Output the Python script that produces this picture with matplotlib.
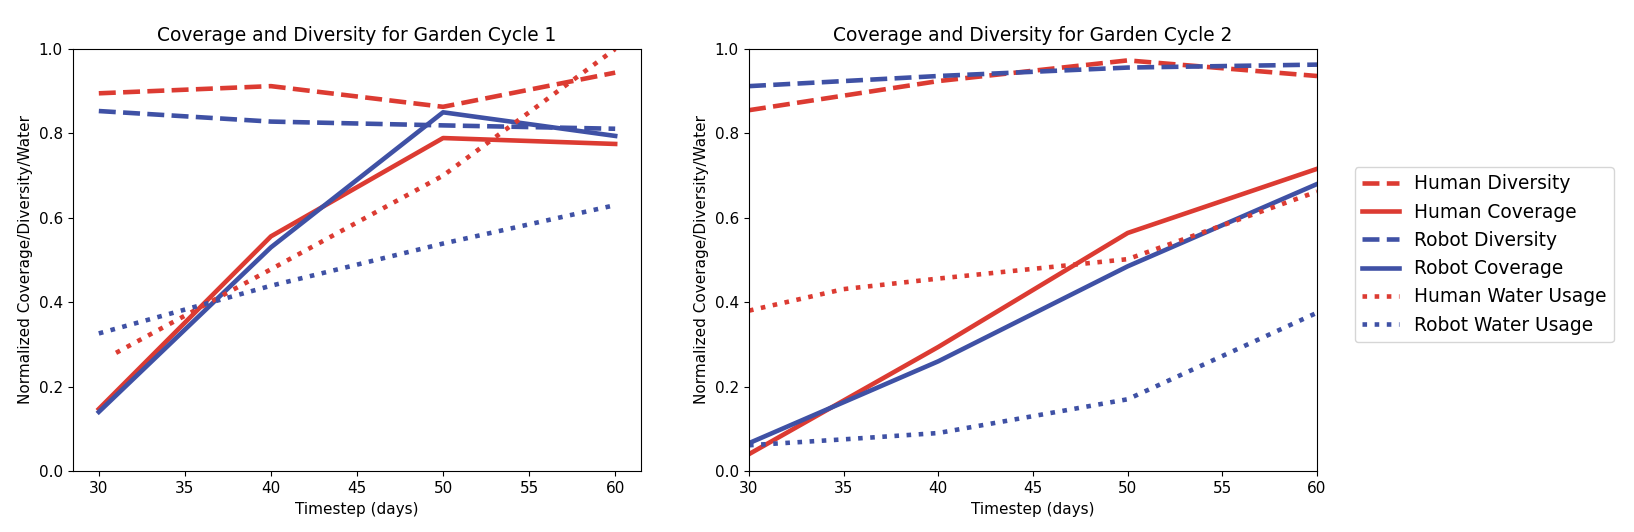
import matplotlib
matplotlib.use('Agg')
import matplotlib.pyplot as plt

plt.rcParams['font.size'] = 11
plt.rcParams['axes.titlesize'] = 13.4
plt.rcParams['legend.fontsize'] = 13.4
plt.rcParams['xtick.major.size'] = 3.85
plt.rcParams['ytick.major.size'] = 3.85

red = '#dc3b32'
blue = '#3f51a5'

steps = [30, 40, 50, 60]

# cycle 1
c1_human_div = [0.895, 0.912, 0.863, 0.944]
c1_human_cov = [0.147, 0.556, 0.789, 0.775]
c1_robot_div = [0.853, 0.828, 0.819, 0.811]
c1_robot_cov = [0.140, 0.530, 0.850, 0.794]
c1_water_steps = [31, 40, 50, 60]
c1_human_water = [0.28, 0.478, 0.70, 1.0]
c1_robot_water = [0.326, 0.439, 0.539, 0.630]

# cycle 2
c2_human_div = [0.855, 0.924, 0.973, 0.936]
c2_human_cov = [0.040, 0.294, 0.564, 0.716]
c2_robot_div = [0.912, 0.936, 0.956, 0.963]
c2_robot_cov = [0.066, 0.260, 0.485, 0.680]
c2_water_steps = [30, 35, 40, 50, 60]
c2_human_water = [0.380, 0.431, 0.456, 0.502, 0.662]
c2_robot_water = [0.061, 0.075, 0.090, 0.170, 0.375]

lw = 3.3

fig = plt.figure(figsize=(16.34, 5.32), dpi=100)
ax1 = fig.add_axes([73/1634, 61/532, 568/1634, 422/532])
ax2 = fig.add_axes([749/1634, 61/532, 568/1634, 422/532])

ax1.plot(steps, c1_human_div, color=red, ls='--', lw=lw, label='Human Diversity')
ax1.plot(steps, c1_human_cov, color=red, ls='-', lw=lw, label='Human Coverage')
ax1.plot(steps, c1_robot_div, color=blue, ls='--', lw=lw, label='Robot Diversity')
ax1.plot(steps, c1_robot_cov, color=blue, ls='-', lw=lw, label='Robot Coverage')
ax1.plot(c1_water_steps, c1_human_water, color=red, ls=':', lw=lw, label='Human Water Usage')
ax1.plot(steps, c1_robot_water, color=blue, ls=':', lw=lw, label='Robot Water Usage')
ax1.set_ylim(0, 1)
ax1.set_xlabel('Timestep (days)')
ax1.set_ylabel('Normalized Coverage/Diversity/Water')
ax1.set_title('Coverage and Diversity for Garden Cycle 1')

ax2.plot(steps, c2_human_div, color=red, ls='--', lw=lw, label='Human Diversity')
ax2.plot(steps, c2_human_cov, color=red, ls='-', lw=lw, label='Human Coverage')
ax2.plot(steps, c2_robot_div, color=blue, ls='--', lw=lw, label='Robot Diversity')
ax2.plot(steps, c2_robot_cov, color=blue, ls='-', lw=lw, label='Robot Coverage')
ax2.plot(c2_water_steps, c2_human_water, color=red, ls=':', lw=lw, label='Human Water Usage')
ax2.plot(c2_water_steps, c2_robot_water, color=blue, ls=':', lw=lw, label='Robot Water Usage')
ax2.set_ylim(0, 1)
ax2.set_xlim(30, 60)
ax2.set_xlabel('Timestep (days)')
ax2.set_ylabel('Normalized Coverage/Diversity/Water')
ax2.set_title('Coverage and Diversity for Garden Cycle 2')
ax2.legend(loc='center left', bbox_to_anchor=(1.05, 0.513))

fig.savefig('out.png')
